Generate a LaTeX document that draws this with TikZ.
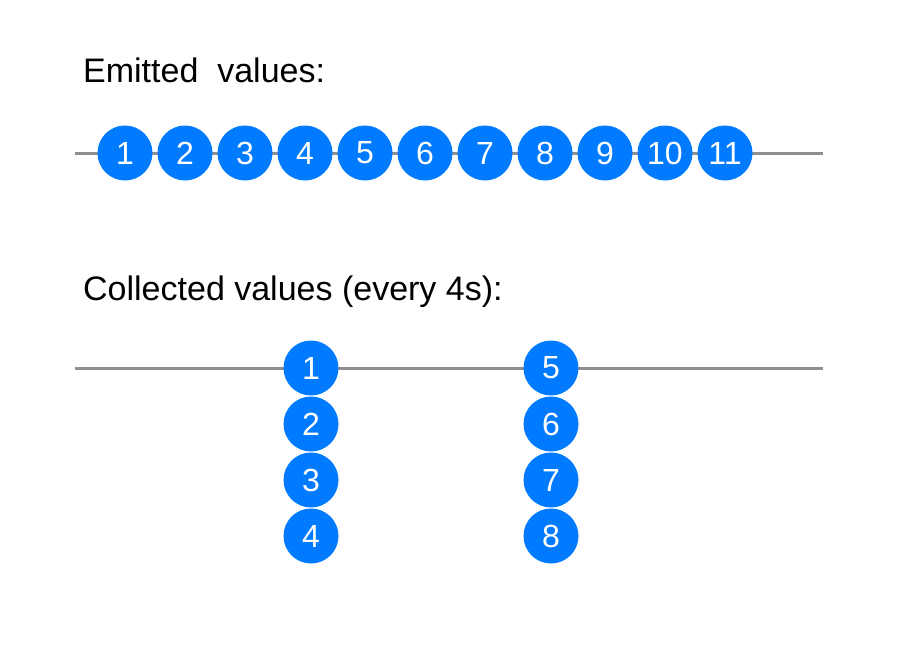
\documentclass[tikz,border=0pt]{standalone}
\usepackage{fontspec}
\setmainfont{Liberation Sans}
\usetikzlibrary{positioning}
\definecolor{valfill}{RGB}{0,122,255}
\definecolor{trackgray}{RGB}{142,142,147}
\tikzset{
  val/.style={circle, fill=valfill, draw=none, minimum size=55pt,
              inner sep=0pt, text=white, font=\fontsize{32}{32}\selectfont},
  track/.style={draw=trackgray, line width=3pt},
  hdr/.style={anchor=base west, inner sep=0pt, font=\fontsize{34}{34}\selectfont}
}
\begin{document}
\begin{tikzpicture}[x=1pt, y=-1pt]
\useasboundingbox (0,0) rectangle (898,656);
\node[hdr] (h1) at (83,82) {Emitted\ \ values:};
\node[hdr] (h2) at (83,300) {Collected values (every 4s):};
% emitted stream
\coordinate (e0) at (75,153);
\coordinate (eend) at (823,153);
\draw[track] (e0) -- (eend);
\foreach \i in {1,...,11}
  \node[val] (e\i) at (65+60*\i,153) {\i};
% collected stream
\coordinate (c0) at (75,368);
\coordinate (cend) at (823,368);
\draw[track] (c0) -- (cend);
\foreach \i in {1,...,4}
  \node[val] (c\i) at (311,312+56*\i) {\i};
\foreach \i in {5,...,8}
  \node[val] (c\i) at (551,88+56*\i) {\i};
\end{tikzpicture}
\end{document}
